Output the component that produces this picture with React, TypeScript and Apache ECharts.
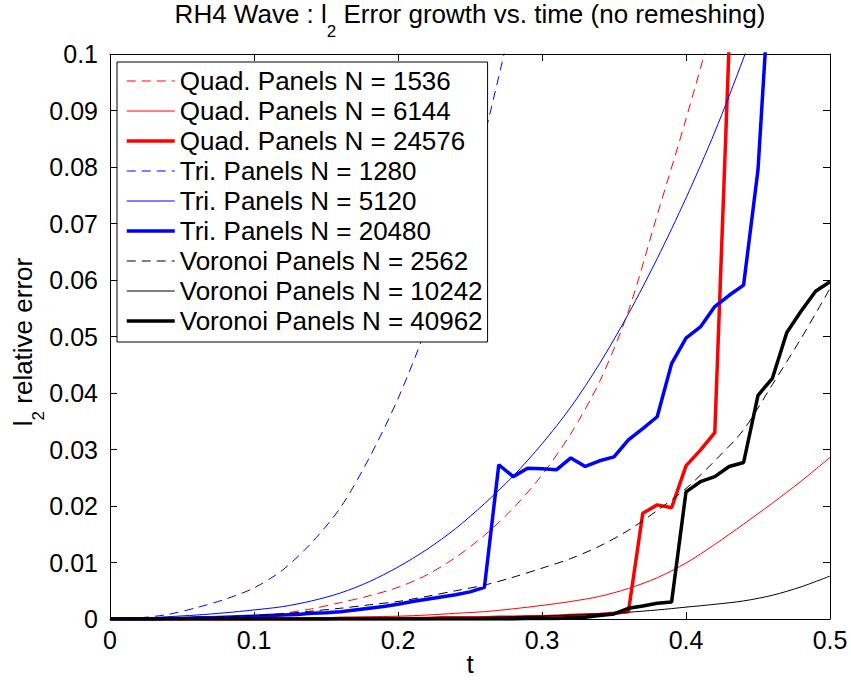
import React, { useEffect, useRef } from "react";
import * as echarts from "echarts";

const FONT = "Liberation Sans, Arial, Helvetica, sans-serif";

// time grids
const tFine = [0, 0.02, 0.04, 0.06, 0.08, 0.1, 0.12, 0.14, 0.16, 0.18, 0.2, 0.22, 0.24, 0.26, 0.28, 0.3, 0.32, 0.34, 0.36, 0.38, 0.4, 0.42, 0.44, 0.46, 0.48, 0.5];
const tCoarse = [
  0, 0.01, 0.02, 0.03, 0.04, 0.05, 0.06, 0.07, 0.08, 0.09,
  0.1, 0.11, 0.12, 0.13, 0.14, 0.15, 0.16, 0.17, 0.18, 0.19,
  0.2, 0.21, 0.22, 0.23, 0.24, 0.25, 0.26, 0.27, 0.28, 0.29,
  0.3, 0.31, 0.32, 0.33, 0.34, 0.35, 0.36, 0.37, 0.38, 0.39,
  0.4, 0.41, 0.42, 0.43, 0.44, 0.45, 0.46, 0.47, 0.48, 0.49, 0.5,
];

// Quad panels
const quad1536 = [0, 0, 0.0001, 0.0002, 0.0003, 0.0005, 0.001, 0.0018, 0.0029, 0.0041, 0.0056, 0.0078, 0.0109, 0.0148, 0.0196, 0.0255, 0.0328, 0.042, 0.0545, 0.0715, 0.0885, 0.107, 0.13];
const quad6144 = [0, 0, 0, 0, 0, 0.0001, 0.0001, 0.0002, 0.0003, 0.0004, 0.0005, 0.0007, 0.001, 0.0013, 0.0018, 0.0024, 0.0031, 0.004, 0.0054, 0.0073, 0.0099, 0.0132, 0.0168, 0.0205, 0.0244, 0.0286];
const quad24576 = [
  0, 0, 0, 0, 0, 0, 0, 0, 0, 0,
  0, 0, 0, 0, 0, 0, 0.0001, 0.0001, 0.0001, 0.0001,
  0.0001, 0.0001, 0.0001, 0.0002, 0.0002, 0.0002, 0.0002, 0.0003, 0.0003, 0.0004,
  0.0004, 0.0005, 0.0006, 0.0007, 0.0008, 0.001, 0.0013, 0.0187, 0.0202, 0.0197,
  0.0271, 0.0299, 0.033, 0.102,
];

// Tri panels
const tri1280 = [0, 0.0002, 0.0008, 0.002, 0.0035, 0.0055, 0.0087, 0.0135, 0.0197, 0.0285, 0.039, 0.0518, 0.0672, 0.0855, 0.107];
const tri5120 = [0, 0.0001, 0.0004, 0.0007, 0.0011, 0.0016, 0.0022, 0.0032, 0.0046, 0.0066, 0.0092, 0.0123, 0.016, 0.0204, 0.0253, 0.031, 0.0375, 0.0452, 0.054, 0.0638, 0.0745, 0.0862, 0.0993, 0.1135];
const tri20480 = [
  0, 0, 0, 0, 0.0001, 0.0001, 0.0002, 0.0002, 0.0003, 0.0004,
  0.0005, 0.0006, 0.0007, 0.0008, 0.001, 0.0011, 0.0013, 0.0016, 0.0019, 0.0022,
  0.0026, 0.0031, 0.0035, 0.0039, 0.0043, 0.0048, 0.0056, 0.0273, 0.0252, 0.0267,
  0.0266, 0.0264, 0.0285, 0.027, 0.028, 0.0287, 0.0317, 0.0337, 0.0358, 0.0452,
  0.0497, 0.0517, 0.0553, 0.0573, 0.0591, 0.0795, 0.121,
];

// Voronoi panels
const vor2562 = [0, 0, 0.0001, 0.0002, 0.0004, 0.0006, 0.0009, 0.0014, 0.0019, 0.0025, 0.0031, 0.004, 0.005, 0.006, 0.0074, 0.009, 0.0107, 0.0129, 0.0157, 0.0192, 0.0231, 0.028, 0.0335, 0.0415, 0.0497, 0.0585];
const vor10242 = [0, 0, 0, 0, 0, 0, 0, 0, 0, 0, 0.0001, 0.0001, 0.0002, 0.0003, 0.0004, 0.0005, 0.0007, 0.0009, 0.0012, 0.0016, 0.0021, 0.0026, 0.0032, 0.0042, 0.0057, 0.0076];
const vor40962 = [
  0, 0, 0, 0, 0, 0, 0, 0, 0, 0,
  0, 0, 0, 0, 0, 0, 0, 0, 0, 0,
  0, 0, 0, 0, 0, 0, 0, 0, 0, 0.0001,
  0.0001, 0.0001, 0.0002, 0.0003, 0.0006, 0.0009, 0.0019, 0.0023, 0.0028, 0.003,
  0.0225, 0.0243, 0.0252, 0.027, 0.0277, 0.0396, 0.0426, 0.0507, 0.0545, 0.058, 0.0597,
];

const seriesNames = [
  "Quad. Panels N = 1536",
  "Quad. Panels N = 6144",
  "Quad. Panels N = 24576",
  "Tri. Panels N = 1280",
  "Tri. Panels N = 5120",
  "Tri. Panels N = 20480",
  "Voronoi Panels N = 2562",
  "Voronoi Panels N = 10242",
  "Voronoi Panels N = 40962",
];

// title / axis-name pieces: [main before subscript, subscript, main after]
const titleParts = ["RH4 Wave : l", "2", " Error growth vs. time (no remeshing)"];
const yNameParts = ["l", "2", " relative error"];
const xName = "t";

const pairs = (ts: number[], vs: number[]) => vs.map((v, i) => [ts[i], v]);

const DASH = [9, 6];
const THIN = 1;
const THICK = 3.5;
const MAIN_FS = 26;
const SUB_FS = 17;

function measure(text: string, size: number): number {
  const c = document.createElement("canvas").getContext("2d");
  if (!c) return text.length * size * 0.5;
  c.font = `${size}px ${FONT}`;
  return c.measureText(text).width;
}

export default function App() {
  const ref = useRef<HTMLDivElement>(null);
  useEffect(() => {
    if (!ref.current) return;
    const chart = echarts.init(ref.current, null, { renderer: "svg" });
    const mk = (name: string, data: number[][], color: string, width: number, dashed: boolean, smooth: boolean) => ({
      name,
      type: "line",
      data,
      showSymbol: false,
      symbol: "none",
      smooth: smooth ? 0.3 : false,
      clip: true,
      lineStyle: { color, width, type: dashed ? DASH : "solid" },
      itemStyle: { color },
    });
    const fmt = (v: number) => String(+v.toFixed(2));
    const axisCommon = {
      axisLine: { show: true, onZero: false, lineStyle: { color: "#000", width: 1 } },
      axisTick: { show: true, inside: true, length: 7, lineStyle: { color: "#000" } },
      splitLine: { show: false },
    };
    const widths = [THIN, THIN, THICK, THIN, THIN, THICK, THIN, THIN, THICK];

    // title with subscript (horizontal)
    const tw = titleParts.map((s, i) => measure(s, i === 1 ? SUB_FS : MAIN_FS));
    const tTotal = tw[0] + tw[1] + tw[2];
    let tx = 470 - tTotal / 2;
    const titleMidY = 14;
    const subMidY = 31;
    const titleEls: any[] = titleParts.map((s, i) => {
      const el = {
        type: "text",
        x: tx,
        y: i === 1 ? subMidY : titleMidY,
        style: {
          text: s, align: "left", verticalAlign: "middle",
          fontSize: i === 1 ? SUB_FS : MAIN_FS, fontFamily: FONT, fill: "#000",
        },
      };
      tx += tw[i];
      return el;
    });

    // y-axis name with subscript (rotated)
    const yw = yNameParts.map((s, i) => measure(s, i === 1 ? SUB_FS : MAIN_FS));
    const yTotal = yw[0] + yw[1] + yw[2];
    let yy = 342 + yTotal / 2;
    const yEls: any[] = yNameParts.map((s, i) => {
      const el = {
        type: "text",
        x: i === 1 ? 38 : 23,
        y: yy,
        rotation: Math.PI / 2,
        style: {
          text: s, align: "left", verticalAlign: "middle",
          fontSize: i === 1 ? SUB_FS : MAIN_FS, fontFamily: FONT, fill: "#000",
        },
      };
      yy -= yw[i];
      return el;
    });

    chart.setOption({
      animation: false,
      backgroundColor: "#fff",
      textStyle: { fontFamily: FONT },
      grid: { left: 110, right: 21, top: 54, bottom: 63, containLabel: false },
      xAxis: [
        {
          type: "value", min: 0, max: 0.5, interval: 0.1, position: "bottom",
          ...axisCommon,
          axisLabel: { fontSize: 25, color: "#000", fontFamily: FONT, margin: 8, formatter: fmt },
        },
        {
          type: "value", min: 0, max: 0.5, interval: 0.1, position: "top",
          ...axisCommon,
          axisLabel: { show: false },
        },
      ],
      yAxis: [
        {
          type: "value", min: 0, max: 0.1, interval: 0.01, position: "left",
          ...axisCommon,
          axisLabel: { fontSize: 25, color: "#000", fontFamily: FONT, margin: 12, formatter: fmt },
        },
        {
          type: "value", min: 0, max: 0.1, interval: 0.01, position: "right",
          ...axisCommon,
          axisLabel: { show: false },
        },
      ],
      legend: {
        orient: "vertical",
        left: 117,
        top: 62,
        padding: [6, 5, 8, 8],
        itemWidth: 48,
        itemHeight: 14,
        itemGap: 4,
        itemTextGap: 6,
        backgroundColor: "#fff",
        borderColor: "#000",
        borderWidth: 1,
        borderRadius: 0,
        itemStyle: { opacity: 0 },
        data: seriesNames.map((name, i) => ({ name, lineStyle: { width: widths[i] } })),
        textStyle: { fontSize: MAIN_FS, color: "#000", fontFamily: FONT, lineHeight: 26 },
      },
      graphic: [
        ...titleEls,
        ...yEls,
        {
          type: "text",
          x: 470,
          y: 664,
          style: { text: xName, align: "center", verticalAlign: "middle", fontSize: MAIN_FS, fontFamily: FONT, fill: "#000" },
        },
      ],
      series: [
        mk(seriesNames[0], pairs(tFine, quad1536), "#ff0000", THIN, true, true),
        mk(seriesNames[1], pairs(tFine, quad6144), "#ff0000", THIN, false, true),
        mk(seriesNames[2], pairs(tCoarse, quad24576), "#ff0000", THICK, false, false),
        mk(seriesNames[3], pairs(tFine, tri1280), "#0000ff", THIN, true, true),
        mk(seriesNames[4], pairs(tFine, tri5120), "#0000ff", THIN, false, true),
        mk(seriesNames[5], pairs(tCoarse, tri20480), "#0000ff", THICK, false, false),
        mk(seriesNames[6], pairs(tFine, vor2562), "#000000", THIN, true, true),
        mk(seriesNames[7], pairs(tFine, vor10242), "#000000", THIN, false, true),
        mk(seriesNames[8], pairs(tCoarse, vor40962), "#000000", THICK, false, false),
      ],
    });
    return () => chart.dispose();
  }, []);
  return (
    <div
      ref={ref}
      style={{ position: "absolute", left: 0, top: 0, width: 851, height: 682 }}
    />
  );
}
